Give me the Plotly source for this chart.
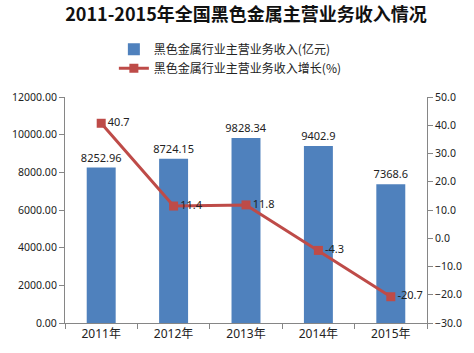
import plotly.graph_objects as go

categories = ["2011年", "2012年", "2013年", "2014年", "2015年"]
revenue = [8252.96, 8724.15, 9828.34, 9402.9, 7368.6]
revenue_labels = ["8252.96", "8724.15", "9828.34", "9402.9", "7368.6"]
growth = [40.7, 11.4, 11.8, -4.3, -20.7]
growth_labels = ["40.7", "11.4", "11.8", "-4.3", "-20.7"]

font_num = "Noto Sans, Noto Sans CJK SC, sans-serif"
font_cjk = "Noto Sans CJK SC, sans-serif"

fig = go.Figure()
fig.add_trace(go.Bar(
    x=categories, y=revenue, name="黑色金属行业主营业务收入(亿元)",
    marker=dict(color="#4F81BD", line=dict(width=0)),
    width=0.4,
    text=revenue_labels, textposition="outside", cliponaxis=False,
    constraintext="none",
    textfont=dict(size=11, color="#222222", family=font_num),
))
fig.add_trace(go.Scatter(
    x=categories, y=growth, name="黑色金属行业主营业务收入增长(%)",
    yaxis="y2", mode="lines+markers+text",
    line=dict(color="#BE4B48", width=3),
    marker=dict(symbol="square", size=9, color="#BE4B48"),
    text=growth_labels, textposition="middle right", cliponaxis=False,
    textfont=dict(size=11, color="#222222", family=font_num),
))

axis_common = dict(
    showgrid=False, showline=True, linecolor="#868686", linewidth=1,
    ticks="outside", ticklen=5, tickcolor="#868686",
    tickfont=dict(size=10.5, color="#222222", family=font_num),
    zeroline=False,
)

fig.update_layout(
    width=474, height=353,
    margin=dict(l=65, r=47, t=97, b=30, autoexpand=False),
    paper_bgcolor="white", plot_bgcolor="white",
    uniformtext=dict(mode=False),
    title=dict(text="<b>2011-2015年全国黑色金属主营业务收入情况</b>",
               x=0.5, xanchor="center", xref="paper",
               y=0.957, yanchor="middle",
               font=dict(size=18, color="#111111", family=font_cjk)),
    showlegend=True,
    legend=dict(x=0.135, xanchor="left", y=1.275, yanchor="top",
                orientation="v", bgcolor="rgba(0,0,0,0)",
                font=dict(size=12, color="#222222", family=font_cjk),
                itemwidth=30, tracegroupgap=4),
    xaxis=dict(**axis_common, type="category", tickson="boundaries"),
    yaxis=dict(**axis_common, range=[0, 12000], dtick=2000, tickformat=".2f"),
    yaxis2=dict(**axis_common, overlaying="y", side="right",
                range=[-30, 50], dtick=10, tickformat=".1f"),
    bargap=0.6,
)
fig.update_xaxes(tickfont_size=12)

fig.write_html("out.html")
